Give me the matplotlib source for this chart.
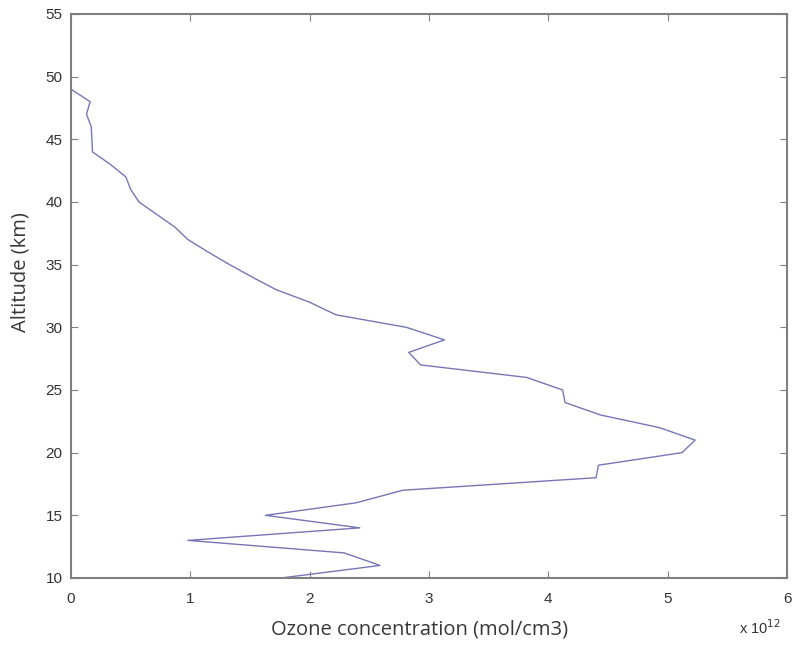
import matplotlib
matplotlib.use("Agg")
import matplotlib.pyplot as plt

# Altitude (km) and ozone concentration (units of 1e12 mol/cm3)
altitude_km = [10, 11, 12, 13, 14, 15, 16, 17, 18, 19, 20, 21, 22, 23, 24, 25,
               26, 27, 28, 29, 30, 31, 32, 33, 34, 35, 36, 37, 38, 39, 40, 41,
               42, 43, 44, 45, 46, 47, 48, 49, 50, 51, 52, 53, 54, 55]
ozone_e12 = [1.76, 2.59, 2.29, 0.98, 2.42, 1.63, 2.39, 2.78, 4.40, 4.42, 5.12, 5.23,
             4.93, 4.44, 4.14, 4.12, 3.82, 2.93, 2.83, 3.13, 2.81, 2.22, 2.00, 1.72,
             1.52, 1.33, 1.15, 0.98, 0.87, 0.72, 0.57, 0.50, 0.46, 0.33, 0.18, 0.175,
             0.17, 0.13, 0.16, 0.0, 0.0, 0.0, 0.0, 0.0, 0.0, 0.0]

x_ticks = [0, 1, 2, 3, 4, 5, 6]
y_ticks = [10, 15, 20, 25, 30, 35, 40, 45, 50, 55]

plt.rcParams['font.family'] = ['Liberation Sans', 'DejaVu Sans']

fig = plt.figure(figsize=(7.96, 6.45), dpi=100)
ax = fig.add_axes([0.0892, 0.1039, 0.8995, 0.8744])

ax.plot(ozone_e12, altitude_km, color='#7676b6', linewidth=1.0)

ax.set_xlim(0, 6)
ax.set_ylim(10, 55)
ax.set_xticks(x_ticks)
ax.set_yticks(y_ticks)
ax.tick_params(direction='in', length=5, width=0.8, color='#808080',
               labelcolor='#333333', labelsize=11, top=True, right=True)
ax.tick_params(axis='x', pad=10)
ax.tick_params(axis='y', pad=6)
for s in ax.spines.values():
    s.set_color('#7f7f7f')
    s.set_linewidth(1.5)

label_font = ['Open Sans', 'DejaVu Sans']
fig.text(420 / 796, (645 - 634) / 645, 'Ozone concentration (mol/cm3)',
         fontsize=14.5, color='#383838', ha='center', va='baseline', family=label_font)
fig.text(21 / 796, (645 - 272) / 645, 'Altitude (km)', rotation=90,
         fontsize=14.5, color='#383838', ha='center', va='center', family=label_font)

fig.text(0.955, (645 - 634) / 645, r'x 10$^{12}$', fontsize=10.5, color='#333333',
         ha='center', va='baseline')

fig.savefig('out.png', dpi=100, facecolor='white')
